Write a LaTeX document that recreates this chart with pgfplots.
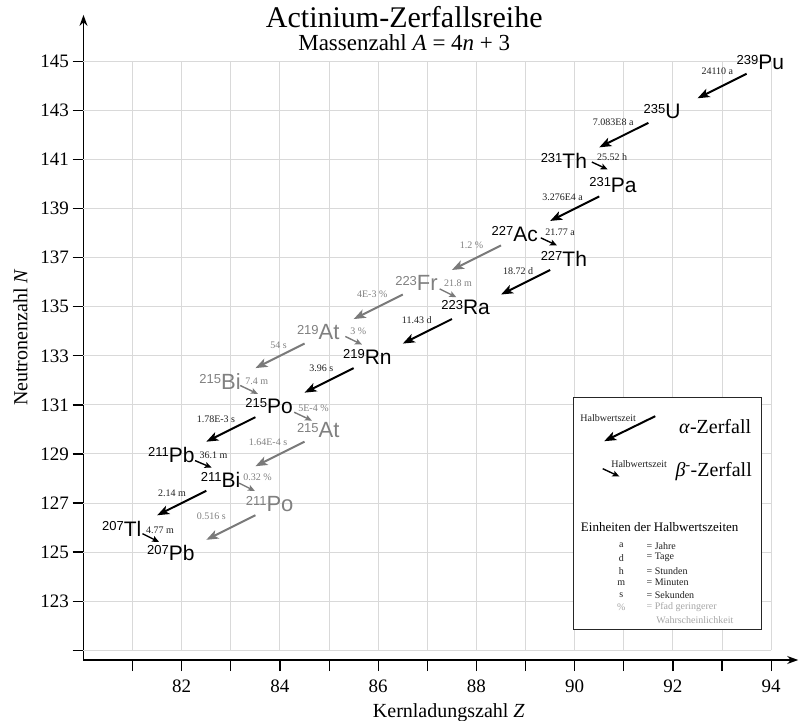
\documentclass[border=0pt]{standalone}
\usepackage{pgfplots}
\pgfplotsset{compat=1.18}
\usepackage{fontspec}
\setmainfont{Liberation Serif}
\setsansfont{Liberation Sans}
\usetikzlibrary{arrows.meta}
\definecolor{gridc}{HTML}{D9D9D9}
\definecolor{minor}{HTML}{808080}
\definecolor{minorarrow}{HTML}{7A7A7A}
\definecolor{hlc}{HTML}{202020}
\newcommand{\nuc}[2]{\llap{\smash{\raisebox{5.6pt}{\fontsize{13}{13}\selectfont #1}}}#2}
\begin{document}
\begin{tikzpicture}[
  nucb/.style={font=\sffamily\fontsize{21}{21}\selectfont, inner sep=0pt, yshift=-1pt, text=black},
  nucg/.style={font=\sffamily\fontsize{22}{22}\selectfont, inner sep=0pt, yshift=-1pt, text=minor},
  hl/.style={font=\fontsize{10}{10}\selectfont, inner sep=0pt, text=hlc},
  hlg/.style={font=\fontsize{10}{10}\selectfont, inner sep=0pt, text=minor},
]
\begin{axis}[
  name=ax,
  scale only axis, width=714.7pt, height=645.1pt,
  xmin=80, xmax=94.55, ymin=120.6, ymax=146.9,
  axis lines*=left,
  axis line style={line width=1.4pt, -{Stealth[length=11pt,width=8pt]}},
  clip=false,
  xtick={81,...,94}, xticklabels={,82,,84,,86,,88,,90,,92,,94},
  ytick={121,123,...,145}, yticklabels={,123,125,127,129,131,133,135,137,139,141,143,145},
  tick align=outside, major tick length=11pt,
  tick style={black, line width=1.2pt},
  ticklabel style={font=\fontsize{19}{19}\selectfont},
  xticklabel shift=5pt,
  /pgf/number format/assume math mode=true,
  xlabel={Kernladungszahl \textit{Z}},
  ylabel={Neutronenzahl \textit{N}},
  label style={font=\fontsize{20}{20}\selectfont},
  xlabel style={xshift=8pt},
  xlabel shift=4pt,
  ylabel shift=6pt,
]
% grid
\pgfplotsinvokeforeach{81,...,94}{\draw[gridc, line width=1pt] (axis cs:#1,121) -- (axis cs:#1,145);}
\pgfplotsinvokeforeach{121,123,...,145}{\draw[gridc, line width=1pt] (axis cs:80,#1) -- (axis cs:94,#1);}

% title
\node[font=\fontsize{30}{30}\selectfont, anchor=base, inner sep=0pt] at (axis cs:86.53,146.39) {Actinium-Zerfallsreihe};
\node[font=\fontsize{23}{23}\selectfont, anchor=base, inner sep=0pt] at (axis cs:86.53,145.43) {Massenzahl \textit{A} = 4\textit{n} + 3};

% alpha decays (main)
\addplot[black, line width=2pt, -{Stealth[length=12pt,width=9pt,inset=3pt]}] coordinates {(93.5,144.5) (92.5,143.5)};
\addplot[black, line width=2pt, -{Stealth[length=12pt,width=9pt,inset=3pt]}] coordinates {(91.5,142.5) (90.5,141.5)};
\addplot[black, line width=2pt, -{Stealth[length=12pt,width=9pt,inset=3pt]}] coordinates {(90.5,139.5) (89.5,138.5)};
\addplot[black, line width=2pt, -{Stealth[length=12pt,width=9pt,inset=3pt]}] coordinates {(89.5,136.5) (88.5,135.5)};
\addplot[black, line width=2pt, -{Stealth[length=12pt,width=9pt,inset=3pt]}] coordinates {(87.5,134.5) (86.5,133.5)};
\addplot[black, line width=2pt, -{Stealth[length=12pt,width=9pt,inset=3pt]}] coordinates {(85.5,132.5) (84.5,131.5)};
\addplot[black, line width=2pt, -{Stealth[length=12pt,width=9pt,inset=3pt]}] coordinates {(83.5,130.5) (82.5,129.5)};
\addplot[black, line width=2pt, -{Stealth[length=12pt,width=9pt,inset=3pt]}] coordinates {(82.5,127.5) (81.5,126.5)};
% alpha decays (minor)
\addplot[minorarrow, line width=2pt, -{Stealth[length=12pt,width=9pt,inset=3pt]}] coordinates {(88.5,137.5) (87.5,136.5)};
\addplot[minorarrow, line width=2pt, -{Stealth[length=12pt,width=9pt,inset=3pt]}] coordinates {(86.5,135.5) (85.5,134.5)};
\addplot[minorarrow, line width=2pt, -{Stealth[length=12pt,width=9pt,inset=3pt]}] coordinates {(84.5,133.5) (83.5,132.5)};
\addplot[minorarrow, line width=2pt, -{Stealth[length=12pt,width=9pt,inset=3pt]}] coordinates {(84.5,129.5) (83.5,128.5)};
\addplot[minorarrow, line width=2pt, -{Stealth[length=12pt,width=9pt,inset=3pt]}] coordinates {(83.5,126.5) (82.5,125.5)};

% beta decays
\addplot[black, line width=1.4pt, -{Stealth[length=7pt,width=6pt,inset=1.5pt]}] coordinates {(90.35,140.9) (90.67,140.6)};
\addplot[black, line width=1.4pt, -{Stealth[length=7pt,width=6pt,inset=1.5pt]}] coordinates {(89.31,137.81) (89.64,137.5)};
\addplot[minorarrow, line width=1.4pt, -{Stealth[length=7pt,width=6pt,inset=1.5pt]}] coordinates {(87.25,135.73) (87.59,135.39)};
\addplot[minorarrow, line width=1.4pt, -{Stealth[length=7pt,width=6pt,inset=1.5pt]}] coordinates {(85.33,133.79) (85.67,133.46)};
\addplot[minorarrow, line width=1.4pt, -{Stealth[length=7pt,width=6pt,inset=1.5pt]}] coordinates {(83.19,131.79) (83.55,131.45)};
\addplot[minorarrow, line width=1.4pt, -{Stealth[length=7pt,width=6pt,inset=1.5pt]}] coordinates {(84.29,130.7) (84.65,130.36)};
\addplot[black, line width=1.4pt, -{Stealth[length=7pt,width=6pt,inset=1.5pt]}] coordinates {(82.27,128.73) (82.61,128.44)};
\addplot[minorarrow, line width=1.4pt, -{Stealth[length=7pt,width=6pt,inset=1.5pt]}] coordinates {(83.17,127.81) (83.49,127.49)};
\addplot[black, line width=1.4pt, -{Stealth[length=7pt,width=6pt,inset=1.5pt]}] coordinates {(81.2,125.75) (81.54,125.41)};

% nuclides
\node[nucb] at (axis cs:94,145) {\nuc{239}{Pu}};
\node[nucb] at (axis cs:92,143) {\nuc{235}{U}};
\node[nucb] at (axis cs:90,141) {\nuc{231}{Th}};
\node[nucb] at (axis cs:91,140) {\nuc{231}{Pa}};
\node[nucb] at (axis cs:89,138) {\nuc{227}{Ac}};
\node[nucb] at (axis cs:90,137) {\nuc{227}{Th}};
\node[nucb] at (axis cs:88,135) {\nuc{223}{Ra}};
\node[nucb] at (axis cs:86,133) {\nuc{219}{Rn}};
\node[nucb] at (axis cs:84,131) {\nuc{215}{Po}};
\node[nucb] at (axis cs:82,129) {\nuc{211}{Pb}};
\node[nucb] at (axis cs:83,128) {\nuc{211}{Bi}};
\node[nucb] at (axis cs:81,126) {\nuc{207}{Tl}};
\node[nucb] at (axis cs:82,125) {\nuc{207}{Pb}};
\node[nucg] at (axis cs:87,136) {\nuc{223}{Fr}};
\node[nucg] at (axis cs:85,134) {\nuc{219}{At}};
\node[nucg] at (axis cs:83,132) {\nuc{215}{Bi}};
\node[nucg] at (axis cs:85,130) {\nuc{215}{At}};
\node[nucg] at (axis cs:84,127) {\nuc{211}{Po}};

% half-lives alpha
\node[hl, anchor=east] at (axis cs:93.23,144.59) {24110 a};
\node[hl, anchor=east] at (axis cs:91.2,142.52) {7.083E8 a};
\node[hl, anchor=east] at (axis cs:90.17,139.48) {3.276E4 a};
\node[hl, anchor=east] at (axis cs:89.16,136.46) {18.72 d};
\node[hl, anchor=east] at (axis cs:87.09,134.44) {11.43 d};
\node[hl, anchor=east] at (axis cs:85.09,132.48) {3.96 s};
\node[hl, anchor=east] at (axis cs:83.09,130.4) {1.78E-3 s};
\node[hl, anchor=east] at (axis cs:82.09,127.4) {2.14 m};
\node[hlg, anchor=east] at (axis cs:88.14,137.5) {1.2 \%};
\node[hlg, anchor=east] at (axis cs:86.19,135.53) {4E-3 \%};
\node[hlg, anchor=east] at (axis cs:84.14,133.42) {54 s};
\node[hlg, anchor=east] at (axis cs:84.15,129.48) {1.64E-4 s};
\node[hlg, anchor=east] at (axis cs:82.9,126.47) {0.516 s};
% half-lives beta
\node[hl, anchor=west] at (axis cs:90.45,141.1) {25.52 h};
\node[hl, anchor=west] at (axis cs:89.4,138.03) {21.77 a};
\node[hlg, anchor=west] at (axis cs:87.34,135.94) {21.8 m};
\node[hlg, anchor=west] at (axis cs:85.43,134.0) {3 \%};
\node[hlg, anchor=west] at (axis cs:83.29,131.98) {7.4 m};
\node[hlg, anchor=west] at (axis cs:84.37,130.87) {5E-4 \%};
\node[hl, anchor=west] at (axis cs:82.36,128.96) {36.1 m};
\node[hlg, anchor=west] at (axis cs:83.25,128.04) {0.32 \%};
\node[hl, anchor=west] at (axis cs:81.27,125.87) {4.77 m};

% legend box
\draw[black!85, line width=1pt, fill=white] (axis cs:89.98,131.29) rectangle (axis cs:93.8,121.83);
\draw[black, line width=2pt, -{Stealth[length=12pt,width=9pt,inset=3pt]}] (axis cs:91.64,130.54) -- (axis cs:90.6,129.52);
\node[hl, anchor=center] at (axis cs:90.68,130.45) {Halbwertszeit};
\node[font=\fontsize{20}{20}\selectfont, inner sep=0pt] at (axis cs:92.86,130.12) {\textit{α}-Zerfall};
\draw[black, line width=1.4pt, -{Stealth[length=7pt,width=6pt,inset=1.5pt]}] (axis cs:90.57,128.4) -- (axis cs:90.91,128.08);
\node[hl, anchor=center] at (axis cs:91.31,128.57) {Halbwertszeit};
\node[font=\fontsize{20}{20}\selectfont, inner sep=0pt] at (axis cs:92.83,128.27) {\textit{β}\textsuperscript{-}-Zerfall};
\node[font=\fontsize{13}{13}\selectfont, inner sep=0pt] at (axis cs:91.73,126.04) {Einheiten der Halbwertszeiten};
\node[hl] at (axis cs:90.95,125.26) {a};
\node[hl, anchor=west] at (axis cs:91.46,125.26) {= Jahre};
\node[hl] at (axis cs:90.95,124.77) {d};
\node[hl, anchor=west] at (axis cs:91.46,124.77) {= Tage};
\node[hl] at (axis cs:90.95,124.24) {h};
\node[hl, anchor=west] at (axis cs:91.46,124.24) {= Stunden};
\node[hl] at (axis cs:90.95,123.75) {m};
\node[hl, anchor=west] at (axis cs:91.46,123.75) {= Minuten};
\node[hl] at (axis cs:90.95,123.24) {s};
\node[hl, anchor=west] at (axis cs:91.46,123.24) {= Sekunden};
\node[hl, text=black!35] at (axis cs:90.95,122.74) {\%};
\node[hl, text=black!35, anchor=west] at (axis cs:91.46,122.74) {= Pfad geringerer};
\node[hl, text=black!35, anchor=west] at (axis cs:91.66,122.21) {Wahrscheinlichkeit};
\end{axis}
\pgfresetboundingbox
\path[use as bounding box] ([xshift=-83.5pt,yshift=-60pt]ax.south west) rectangle ++(800pt,720pt);
\end{tikzpicture}
\end{document}
